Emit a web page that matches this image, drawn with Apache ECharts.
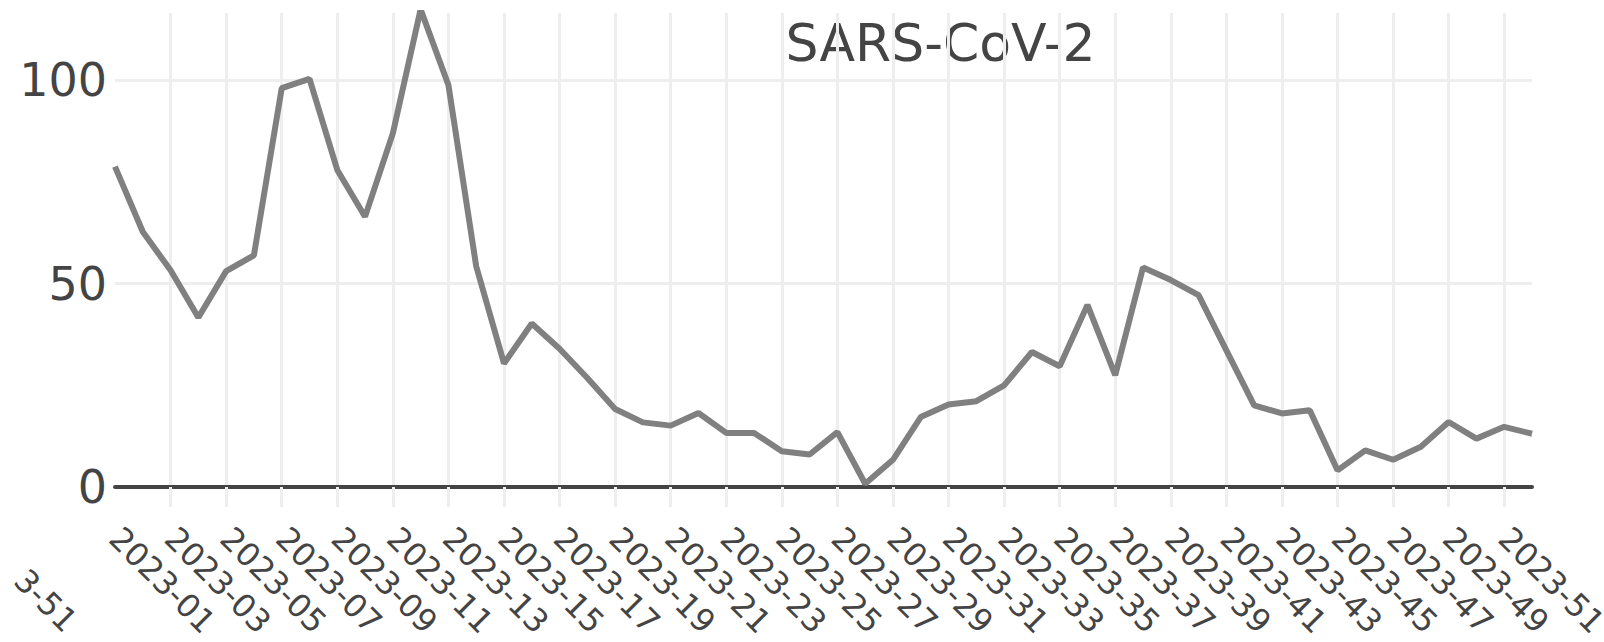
<!DOCTYPE html>
<html>
<head>
<meta charset="utf-8">
<script src="https://cdn.jsdelivr.net/npm/echarts@6/dist/echarts.min.js"></script>
<style>
  html, body { margin: 0; padding: 0; background: #fff; }
  #chart { width: 1604px; height: 642px; }
</style>
</head>
<body>
<div id="chart"></div>
<script>
// weeks on the x axis
var weeks = [
  "2023-01", "2023-02", "2023-03", "2023-04", "2023-05", "2023-06", "2023-07", "2023-08",
  "2023-09", "2023-10", "2023-11", "2023-12", "2023-13", "2023-14", "2023-15", "2023-16",
  "2023-17", "2023-18", "2023-19", "2023-20", "2023-21", "2023-22", "2023-23", "2023-24",
  "2023-25", "2023-26", "2023-27", "2023-28", "2023-29", "2023-30", "2023-31", "2023-32",
  "2023-33", "2023-34", "2023-35", "2023-36", "2023-37", "2023-38", "2023-39", "2023-40",
  "2023-41", "2023-42", "2023-43", "2023-44", "2023-45", "2023-46", "2023-47", "2023-48",
  "2023-49", "2023-50", "2023-51", "2023-52"
];

// SARS-CoV-2 weekly values
var sarsCov2 = [
  78.8, 62.8, 53.3, 41.7, 53.1, 57.0, 98.1, 100.4,
  78.0, 66.5, 87.0, 117.5, 98.9, 54.3, 30.4, 40.2,
  34.0, 26.8, 19.2, 15.9, 15.1, 18.2, 13.3, 13.3,
  8.8, 8.0, 13.5, 0.8, 6.7, 17.2, 20.3, 21.1,
  25.0, 33.2, 29.7, 44.8, 27.5, 54.0, 50.9, 47.2,
  33.6, 20.1, 18.1, 18.9, 4.1, 9.0, 6.7, 9.9,
  16.0, 11.9, 14.8, 13.1
];

var yTicks = [0, 50, 100];
var yMax = 116.6;

var title = "SARS-CoV-2";
var leftoverLabel = "3-51"; // visible tail of the neighbouring panel's last label

var font = "DejaVu Sans";
var textColor = "#444";

var chart = echarts.init(document.getElementById("chart"), null, { renderer: "svg" });

// every other week gets a tick and a grid line (not on the left edge)
function oddWeek(index) {
  return index % 2 === 0 && index > 0;
}

var option = {
  animation: false,
  grid: {
    left: 115,
    right: 72,
    top: 13,
    bottom: 155,
    outerBoundsMode: "none",
    containLabel: false
  },
  graphic: [
    {
      type: "text",
      x: 940.5,
      y: 43,
      style: {
        text: title,
        fontFamily: font,
        fontSize: 52,
        fill: textColor,
        align: "center",
        verticalAlign: "middle"
      }
    },
    {
      type: "text",
      x: 20,
      y: 575,
      rotation: -Math.PI / 4,
      style: {
        text: leftoverLabel,
        fontFamily: font,
        fontSize: 32,
        fill: textColor,
        align: "left",
        verticalAlign: "middle"
      }
    }
  ],
  xAxis: {
    type: "category",
    data: weeks,
    boundaryGap: false,
    axisLine: {
      show: true,
      lineStyle: { color: "#444", width: 4 }
    },
    axisTick: {
      show: true,
      interval: oddWeek,
      length: 20,
      lineStyle: { color: "#eee", width: 3 }
    },
    splitLine: {
      show: true,
      interval: oddWeek,
      lineStyle: { color: "#eee", width: 3 }
    },
    axisLabel: {
      interval: 1,
      rotate: -45,
      margin: 46,
      fontFamily: font,
      fontSize: 32,
      color: textColor
    }
  },
  yAxis: {
    type: "value",
    min: 0,
    max: yMax,
    interval: 50,
    axisLine: { show: false },
    axisTick: { show: false },
    splitLine: {
      show: true,
      showMaxLine: false,
      lineStyle: { color: "#eee", width: 3 }
    },
    axisLabel: {
      margin: 8,
      showMaxLabel: false,
      fontFamily: font,
      fontSize: 46,
      color: textColor,
      formatter: function (v) {
        return yTicks.indexOf(v) >= 0 ? String(v) : "";
      }
    }
  },
  series: [
    {
      type: "line",
      data: sarsCov2,
      showSymbol: false,
      clip: true,
      lineStyle: { color: "#808080", width: 6 },
      itemStyle: { color: "#808080" },
      z: 3
    }
  ]
};

chart.setOption(option);
</script>
</body>
</html>
